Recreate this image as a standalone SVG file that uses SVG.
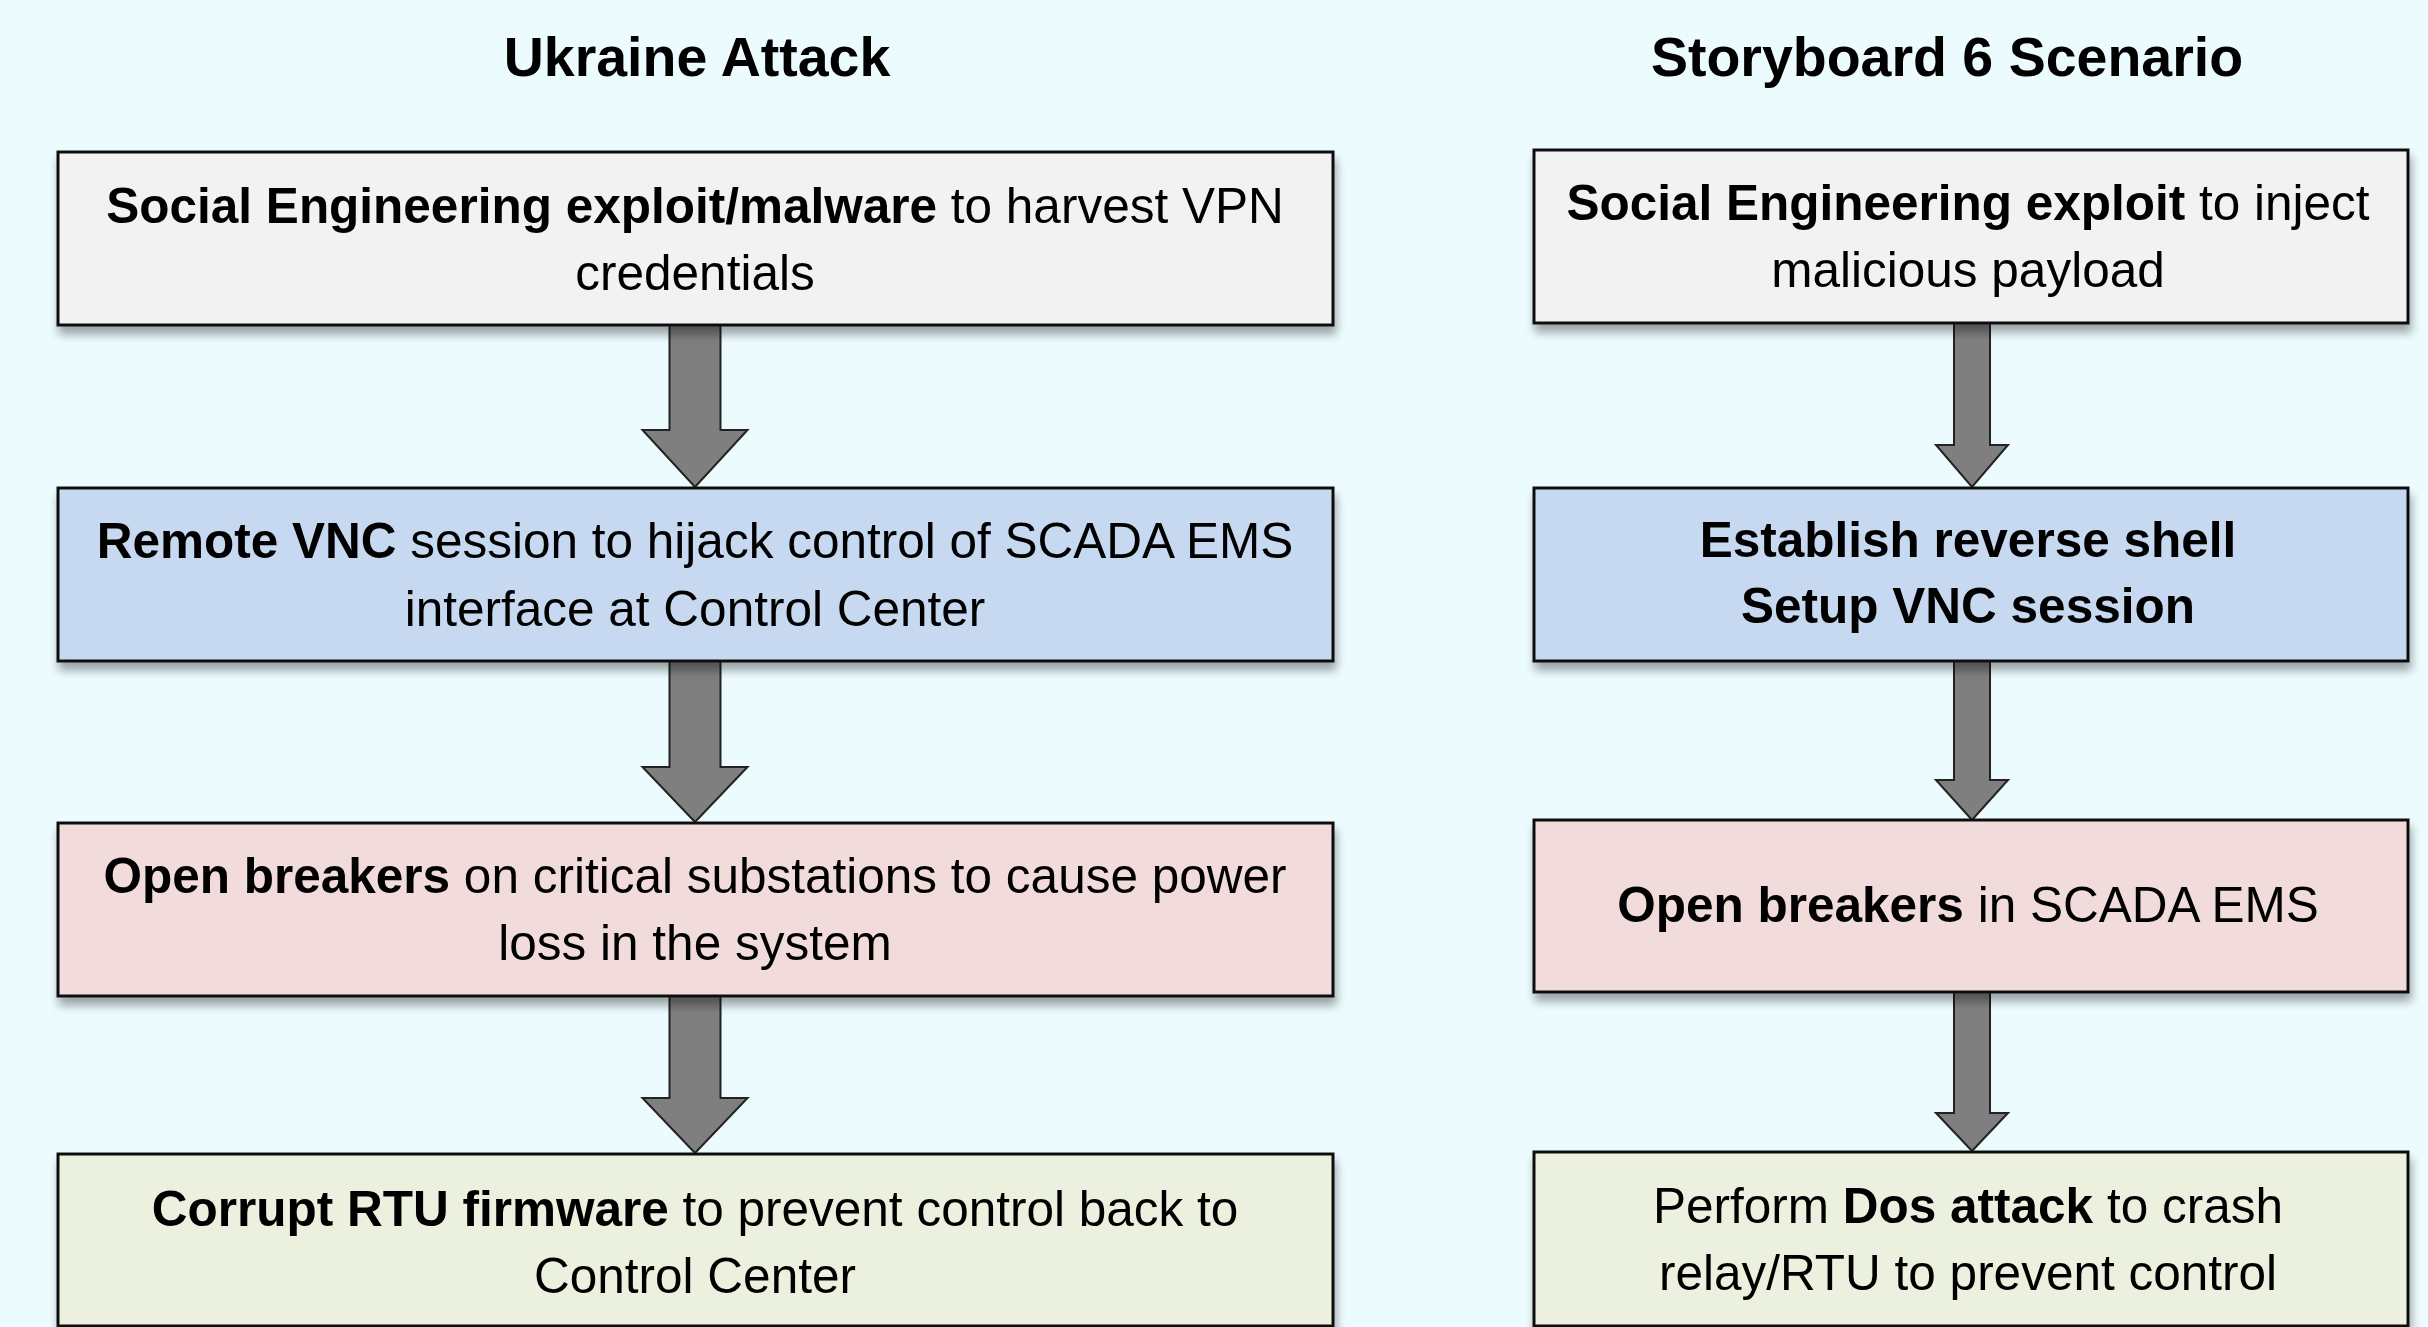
<svg xmlns="http://www.w3.org/2000/svg" width="2428" height="1327" viewBox="0 0 2428 1327">
<style>
.t{font-family:"Liberation Sans",Arial,sans-serif;font-size:49.5px;fill:#000;text-anchor:middle}
.h{font-family:"Liberation Sans",Arial,sans-serif;font-size:55.5px;font-weight:bold;fill:#000;text-anchor:middle}
.b{font-weight:bold}
.box{stroke:#111;stroke-width:3;filter:url(#sh)}
.arr{fill:#7f7f7f;stroke:#222;stroke-width:2;stroke-linejoin:miter}
</style>
<defs>
<filter id="sh" x="-5%" y="-20%" width="110%" height="150%">
<feGaussianBlur in="SourceAlpha" stdDeviation="5"/>
<feOffset dx="2" dy="8" result="o"/>
<feComponentTransfer><feFuncA type="linear" slope="0.35"/></feComponentTransfer>
<feMerge><feMergeNode/><feMergeNode in="SourceGraphic"/></feMerge>
</filter>
</defs>
<rect width="2428" height="1327" fill="#ecfbfe"/>
<text class="h" x="697" y="76">Ukraine Attack</text>
<text class="h" x="1947" y="76">Storyboard 6 Scenario</text>
<g id="connectors">
<path class="arr" d="M669.5,325 V430 H642.5 L695,487 L747.5,430 H720.5 V325 Z"/>
<path class="arr" d="M669.5,661 V767 H642.5 L695,822 L747.5,767 H720.5 V661 Z"/>
<path class="arr" d="M669.5,996 V1098 H642.5 L695,1153 L747.5,1098 H720.5 V996 Z"/>
<path class="arr" d="M1954,323 V445 H1936 L1972,487 L2008,445 H1990 V323 Z"/>
<path class="arr" d="M1954,661 V780 H1936 L1972,820 L2008,780 H1990 V661 Z"/>
<path class="arr" d="M1954,992 V1113 H1936 L1972,1151 L2008,1113 H1990 V992 Z"/>
</g>
<g id="u1"><rect class="box" x="58" y="152" width="1275" height="173" fill="#f2f2f2"/>
<text class="t" x="695" y="223"><tspan class="b">Social Engineering exploit/malware</tspan> to harvest VPN</text>
<text class="t" x="695" y="290">credentials</text></g>
<g id="u2"><rect class="box" x="58" y="488" width="1275" height="173" fill="#c6d9f0"/>
<text class="t" x="695" y="558"><tspan class="b">Remote VNC</tspan> session to hijack control of SCADA EMS</text>
<text class="t" x="695" y="626">interface at Control Center</text></g>
<g id="u3"><rect class="box" x="58" y="823" width="1275" height="173" fill="#f2dcdb"/>
<text class="t" x="695" y="893"><tspan class="b">Open breakers</tspan> on critical substations to cause power</text>
<text class="t" x="695" y="960">loss in the system</text></g>
<g id="u4"><rect class="box" x="58" y="1154" width="1275" height="172" fill="#ebf1de"/>
<text class="t" x="695" y="1226"><tspan class="b">Corrupt RTU firmware</tspan> to prevent control back to</text>
<text class="t" x="695" y="1293">Control Center</text></g>
<g id="s1"><rect class="box" x="1534" y="150" width="874" height="173" fill="#f2f2f2"/>
<text class="t" x="1968" y="220"><tspan class="b">Social Engineering exploit</tspan> to inject</text>
<text class="t" x="1968" y="287">malicious payload</text></g>
<g id="s2"><rect class="box" x="1534" y="488" width="874" height="173" fill="#c6d9f0"/>
<text class="t b" x="1968" y="557">Establish reverse shell</text>
<text class="t b" x="1968" y="623">Setup VNC session</text></g>
<g id="s3"><rect class="box" x="1534" y="820" width="874" height="172" fill="#f2dcdb"/>
<text class="t" x="1968" y="922"><tspan class="b">Open breakers</tspan> in SCADA EMS</text></g>
<g id="s4"><rect class="box" x="1534" y="1152" width="874" height="174" fill="#ebf1de"/>
<text class="t" x="1968" y="1223">Perform <tspan class="b">Dos attack</tspan> to crash</text>
<text class="t" x="1968" y="1290">relay/RTU to prevent control</text></g>
</svg>
